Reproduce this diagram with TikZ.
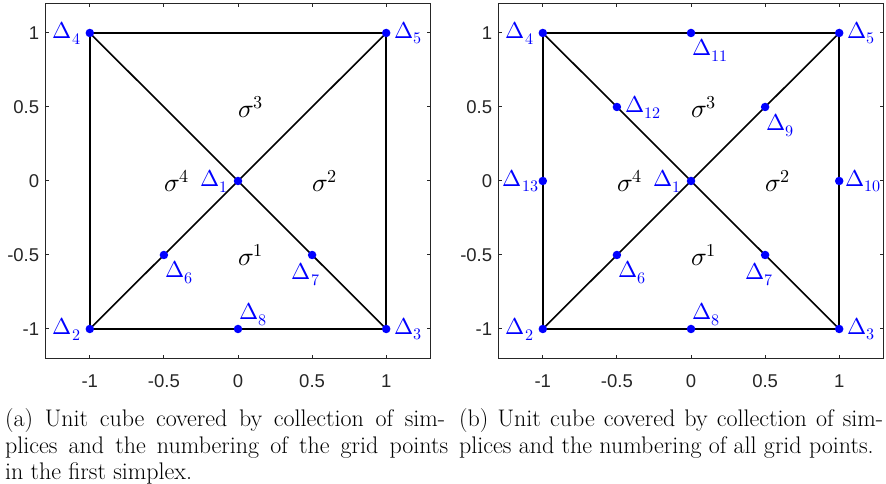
\documentclass[tikz,border=0pt]{standalone}
\usepackage{fontspec}
\usepackage{unicode-math}
\setmathfont{Latin Modern Math}
\newfontfamily\tickfont{Liberation Sans}
\definecolor{mblue}{RGB}{0,0,255}
\definecolor{axgray}{RGB}{38,38,38}
\newcommand\mathfs{\fontsize{23bp}{27bp}\selectfont}
\newcommand\sigfs{\fontsize{26bp}{30bp}\selectfont}
\newcommand\capfs{\fontsize{24bp}{27bp}\selectfont}
\newcommand\tickfs{\tickfont\fontsize{18.5bp}{21bp}\selectfont}
\newcommand\drawmyaxes[1]{%
  \draw[axbox] (-1.3,-1.2) rectangle (1.3,1.2);
  \foreach \t [count=\i] in {-1,-0.5,0,0.5,1}{
    \draw[tickline] (\t,-1.2) -- ++(0,4bp);
    \draw[tickline] (\t,1.2) -- ++(0,-4bp);
    \draw[tickline] (-1.3,\t) -- ++(4bp,0);
    \draw[tickline] (1.3,\t) -- ++(-4bp,0);
    \node[ticklab, yshift=-23bp] (#1xl\i) at (\t,-1.2) {\t};
    \node[ticklab, anchor=east, xshift=-6bp] (#1yl\i) at (-1.3,\t) {\t};
  }%
}
\tikzset{
  edge/.style={line width=1.6bp, black},
  dot/.style={circle, fill=mblue, inner sep=0, minimum size=8.5bp},
  lab/.style={text=mblue, inner sep=0, font=\mathfs},
  sig/.style={inner sep=0, anchor=west, font=\sigfs},
  tickline/.style={axgray, line width=1bp},
  ticklab/.style={font=\tickfs, text=axgray, inner sep=0},
  axbox/.style={draw=axgray, line width=1.2bp},
  capline/.style={inner sep=0, anchor=base west, font=\capfs},
}
\begin{document}
\begin{tikzpicture}[x=1bp,y=1bp]
\useasboundingbox (0,0) rectangle (886,484);
% ---------------- left panel ----------------
\begin{scope}[shift={(238bp,303bp)}, x=148.2bp, y=148bp]
  \drawmyaxes{A}
  \coordinate (a1) at (0,0);
  \coordinate (a2) at (-1,-1);
  \coordinate (a3) at (1,-1);
  \coordinate (a4) at (-1,1);
  \coordinate (a5) at (1,1);
  \coordinate (a6) at (-0.5,-0.5);
  \coordinate (a7) at (0.5,-0.5);
  \coordinate (a8) at (0,-1);
  \draw[edge] (a4) -- (a5) -- (a3) -- (a8) -- (a2) -- cycle;
  \draw[edge] (a4) -- (a1) -- (a7) -- (a3);
  \draw[edge] (a2) -- (a6) -- (a1) -- (a5);
  \foreach \p in {1,...,8}{\node[dot] (ad\p) at (a\p) {};}
  \node[lab, anchor=east, xshift=-10bp] (al1) at (a1) {$\Delta_1$};
  \node[lab, anchor=east, xshift=-9bp] (al2) at (a2) {$\Delta_2$};
  \node[lab, anchor=west, xshift=8bp] (al3) at (a3) {$\Delta_3$};
  \node[lab, anchor=east, xshift=-9bp] (al4) at (a4) {$\Delta_4$};
  \node[lab, anchor=west, xshift=8bp] (al5) at (a5) {$\Delta_5$};
  \node[lab, anchor=north west, xshift=1bp, yshift=-6bp] (al6) at (a6) {$\Delta_6$};
  \node[lab, anchor=north east, xshift=8bp, yshift=-8bp] (al7) at (a7) {$\Delta_7$};
  \node[lab, anchor=south west, xshift=1bp, yshift=3bp] (al8) at (a8) {$\Delta_8$};
  \node[sig] (as1) at (0,-0.5) {$\sigma^1$};
  \node[sig] (as2) at (0.5,0) {$\sigma^2$};
  \node[sig] (as3) at (0,0.5) {$\sigma^3$};
  \node[sig] (as4) at (-0.5,0) {$\sigma^4$};
\end{scope}
% ---------------- right panel ----------------
\begin{scope}[shift={(691bp,303bp)}, x=148.2bp, y=148bp]
  \drawmyaxes{B}
  \coordinate (b1) at (0,0);
  \coordinate (b2) at (-1,-1);
  \coordinate (b3) at (1,-1);
  \coordinate (b4) at (-1,1);
  \coordinate (b5) at (1,1);
  \coordinate (b6) at (-0.5,-0.5);
  \coordinate (b7) at (0.5,-0.5);
  \coordinate (b8) at (0,-1);
  \coordinate (b9) at (0.5,0.5);
  \coordinate (b10) at (1,0);
  \coordinate (b11) at (0,1);
  \coordinate (b12) at (-0.5,0.5);
  \coordinate (b13) at (-1,0);
  \draw[edge] (b4) -- (b11) -- (b5) -- (b10) -- (b3) -- (b8) -- (b2) -- (b13) -- cycle;
  \draw[edge] (b4) -- (b12) -- (b1) -- (b7) -- (b3);
  \draw[edge] (b2) -- (b6) -- (b1) -- (b9) -- (b5);
  \foreach \p in {1,...,13}{\node[dot] (bd\p) at (b\p) {};}
  \node[lab, anchor=east, xshift=-10bp] (bl1) at (b1) {$\Delta_1$};
  \node[lab, anchor=east, xshift=-9bp] (bl2) at (b2) {$\Delta_2$};
  \node[lab, anchor=west, xshift=8bp] (bl3) at (b3) {$\Delta_3$};
  \node[lab, anchor=east, xshift=-9bp] (bl4) at (b4) {$\Delta_4$};
  \node[lab, anchor=west, xshift=8bp] (bl5) at (b5) {$\Delta_5$};
  \node[lab, anchor=north west, xshift=1bp, yshift=-6bp] (bl6) at (b6) {$\Delta_6$};
  \node[lab, anchor=north east, xshift=8bp, yshift=-8bp] (bl7) at (b7) {$\Delta_7$};
  \node[lab, anchor=south west, xshift=1bp, yshift=3bp] (bl8) at (b8) {$\Delta_8$};
  \node[lab, anchor=north west, xshift=1bp, yshift=-7bp] (bl9) at (b9) {$\Delta_9$};
  \node[lab, anchor=west, xshift=6bp] (bl10) at (b10) {$\Delta_{10}$};
  \node[lab, anchor=north west, xshift=1bp, yshift=-6bp] (bl11) at (b11) {$\Delta_{11}$};
  \node[lab, anchor=west, xshift=8bp] (bl12) at (b12) {$\Delta_{12}$};
  \node[lab, anchor=east, xshift=-4bp] (bl13) at (b13) {$\Delta_{13}$};
  \node[sig] (bs1) at (0,-0.5) {$\sigma^1$};
  \node[sig] (bs2) at (0.5,0) {$\sigma^2$};
  \node[sig] (bs3) at (0,0.5) {$\sigma^3$};
  \node[sig] (bs4) at (-0.5,0) {$\sigma^4$};
\end{scope}
% ---------------- captions ----------------
\node[capline] (ca1) at (5,57) {\makebox[440bp][s]{(a) Unit cube covered by collection of sim-}};
\node[capline] (ca2) at (5,30) {\makebox[443bp][s]{plices and the numbering of the grid points}};
\node[capline] (ca3) at (5,4) {in the first simplex.};
\node[capline] (cb1) at (459,57) {\makebox[424bp][s]{(b) Unit cube covered by collection of sim-}};
\node[capline] (cb2) at (459,30) {plices and the numbering of all grid points.};
\end{tikzpicture}
\end{document}
